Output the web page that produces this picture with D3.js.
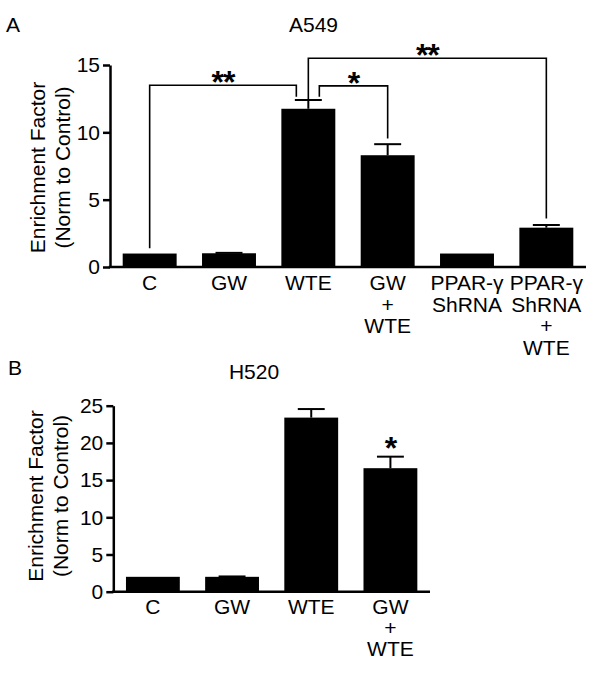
<!DOCTYPE html>
<html><head><meta charset="utf-8">
<script src="https://cdn.jsdelivr.net/npm/d3@7"></script>
<style>body{margin:0;background:#fff}svg{display:block}text{font-family:"Liberation Sans",Arial,Helvetica,sans-serif;fill:#000}</style>
</head><body>
<script>
// ---------- data ----------
const categoriesA = [["C"],["GW"],["WTE"],["GW","+","WTE"],["PPAR-γ","ShRNA"],["PPAR-γ","ShRNA","+","WTE"]];
const valuesA = [1.0, 1.02, 11.75, 8.3, 1.0, 2.92];
const errorsA = [0, 0.03, 0.65, 0.82, 0, 0.2];
const ticksA = [0, 5, 10, 15];

const categoriesB = [["C"],["GW"],["WTE"],["GW","+","WTE"]];
const valuesB = [2.0, 2.0, 23.4, 16.6];
const errorsB = [0, 0.05, 1.15, 1.55];
const ticksB = [0, 5, 10, 15, 20, 25];

// significance brackets: from category index, to category index, top value, drop values, label
const bracketsA = [
  {from:0, to:2, top:13.5, dropFrom:1.4, dropTo:12.65, offFrom:0, offTo:-12, label:"**"},
  {from:2, to:3, top:13.45, dropFrom:12.65, dropTo:9.55, offFrom:11, offTo:0, label:"*"},
  {from:2, to:5, top:15.5, dropFrom:12.4, dropTo:3.6, offFrom:0, offTo:0, label:"**"}
];
const starsB = [{cat:3, label:"*"}];

const yTitle = ["Enrichment Factor","(Norm to Control)"];

// ---------- drawing ----------
const W = 600, H = 674, FS = 21;
const svg = d3.select("body").append("svg").attr("width", W).attr("height", H);

function panel(cfg){
  const g = svg.append("g");
  const x = d3.scaleBand().domain(d3.range(cfg.cats.length)).range([cfg.x0, cfg.x1])
    .paddingInner(0.32).paddingOuter(0.16);
  const y = d3.scaleLinear().domain([0, cfg.ymax]).range([cfg.y0, cfg.yTop]);

  g.selectAll("rect.bar").data(cfg.vals).join("rect")
    .attr("x",(d,i)=>x(i)).attr("width",x.bandwidth())
    .attr("y",d=>y(d)).attr("height",d=>y(0)-y(d)).attr("fill","#000");

  const cap = x.bandwidth()/2;
  cfg.vals.forEach((v,i)=>{
    const e = cfg.errs[i]; if(!e) return;
    const cx = x(i)+x.bandwidth()/2;
    g.append("line").attr("x1",cx).attr("x2",cx).attr("y1",y(v)).attr("y2",y(v+e))
      .attr("stroke","#000").attr("stroke-width",2);
    g.append("line").attr("x1",cx-cap/2).attr("x2",cx+cap/2).attr("y1",y(v+e)).attr("y2",y(v+e))
      .attr("stroke","#000").attr("stroke-width",2);
  });

  const ax = g.append("g").attr("transform",`translate(${cfg.x0},0)`)
    .call(d3.axisLeft(y).tickValues(cfg.ticks).tickSize(7).tickPadding(3).tickSizeOuter(0));
  ax.select(".domain").attr("stroke-width",2.5);
  ax.selectAll(".tick line").attr("stroke-width",2.5);
  ax.selectAll(".tick text").attr("font-size",FS).attr("font-family","Liberation Sans, Arial, sans-serif");

  g.append("line").attr("x1",cfg.x0-1.25).attr("x2",cfg.x1).attr("y1",y(0)).attr("y2",y(0))
    .attr("stroke","#000").attr("stroke-width",2.5);

  cfg.cats.forEach((lines,i)=>{
    const t = g.append("text").attr("text-anchor","middle").attr("font-size",FS)
      .attr("x",x(i)+x.bandwidth()/2).attr("y",y(0)+cfg.labOff);
    lines.forEach((l,k)=>t.append("tspan").attr("x",x(i)+x.bandwidth()/2)
      .attr("dy",k===0?0:cfg.lineH).text(l));
  });

  yTitle.forEach((l,k)=>{
    g.append("text").attr("text-anchor","middle").attr("font-size",FS)
      .attr("transform",`translate(${cfg.ytx[k]},${cfg.ytCy}) rotate(-90)`).text(l);
  });

  g.append("text").attr("x",cfg.titleX).attr("y",cfg.titleY).attr("text-anchor","middle")
    .attr("font-size",FS).text(cfg.title);
  g.append("text").attr("x",cfg.letterX).attr("y",cfg.titleY-(cfg.letterDy||0)).attr("font-size",FS).text(cfg.letter);

  return {x,y,g};
}

function star(g, cx, top, label){
  const fs = 32;
  g.append("text").attr("x",cx).attr("y",top+0.716*fs).attr("text-anchor","middle")
    .attr("font-size",fs).attr("font-weight","bold").attr("letter-spacing",-1).text(label);
}

const A = panel({cats:categoriesA, vals:valuesA, errs:errorsA, ticks:ticksA, ymax:15,
  x0:110, x1:586, y0:267, yTop:65, labOff:23, lineH:21.5,
  ytx:[45,70], ytCy:167.5, title:"A549", titleX:313.5, titleY:32, letter:"A", letterX:6});
bracketsA.forEach(b=>{
  const c = i=>A.x(i)+A.x.bandwidth()/2;
  const xa = c(b.from)+b.offFrom, xb = c(b.to)+b.offTo;
  A.g.append("path").attr("fill","none").attr("stroke","#000").attr("stroke-width",1.6)
    .attr("d",`M${xa},${A.y(b.dropFrom)}V${A.y(b.top)}H${xb}V${A.y(b.dropTo)}`);
  star(A.g,(xa+xb)/2,A.y(b.top)-15,b.label);
});

const B = panel({cats:categoriesB, vals:valuesB, errs:errorsB, ticks:ticksB, ymax:25,
  x0:113.3, x1:430, y0:591.7, yTop:405.7, labOff:22.3, lineH:21,
  ytx:[43,68], ytCy:496, title:"H520", titleX:254, titleY:379, letter:"B", letterX:8, letterDy:4});
starsB.forEach(s=>{
  const cx = B.x(s.cat)+B.x.bandwidth()/2;
  star(B.g,cx,B.y(valuesB[s.cat]+errorsB[s.cat])-21,s.label);
});
</script>
</body></html>
